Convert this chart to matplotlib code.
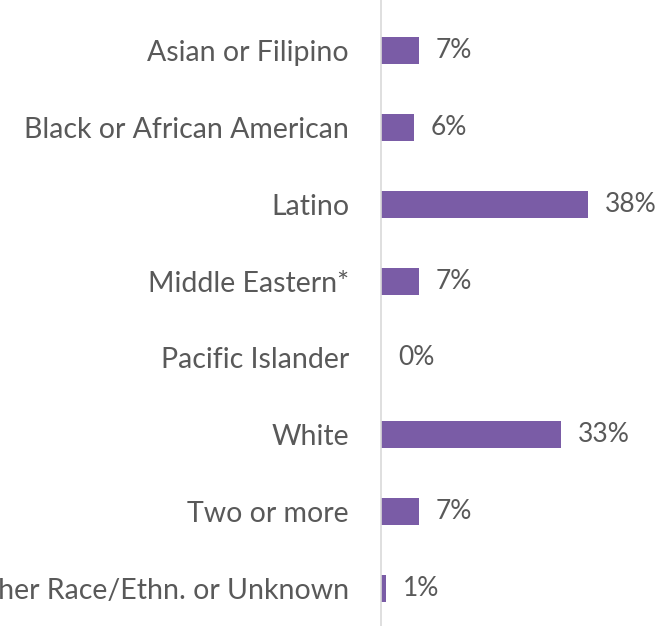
import matplotlib.pyplot as plt

# Share of students by race/ethnicity
groups = ['Asian or Filipino', 'Black or African American', 'Latino',
          'Middle Eastern*', 'Pacific Islander', 'White', 'Two or more',
          'Other Race/Ethn. or Unknown']
shares = [7, 6, 38, 7, 0, 33, 7, 1]

plt.rcParams['font.family'] = ['Lato', 'DejaVu Sans']

fig = plt.figure(figsize=(6.62, 6.26), dpi=100)
ax = fig.add_axes([381 / 662, 0, 272 / 662, 1])

pos = list(range(len(groups)))
ax.barh(pos, shares, height=0.35, color='#7a5ca6')

for y, v in zip(pos, shares):
    ax.text(v + 3.1, y, f'{v}%', va='center', ha='left',
            fontsize=19, color='#595959')

ax.set_xlim(0, 50)
ax.set_ylim(7.49, -0.66)
ax.set_yticks(pos)
ax.set_yticklabels(groups, fontsize=20.5, color='#595959')
ax.tick_params(axis='y', length=0, pad=23)
ax.set_xticks([])

for side in ['top', 'right', 'bottom']:
    ax.spines[side].set_visible(False)
ax.spines['left'].set_color('#d9d9d9')
ax.spines['left'].set_linewidth(1.2)

fig.savefig('out.png', dpi=100)
